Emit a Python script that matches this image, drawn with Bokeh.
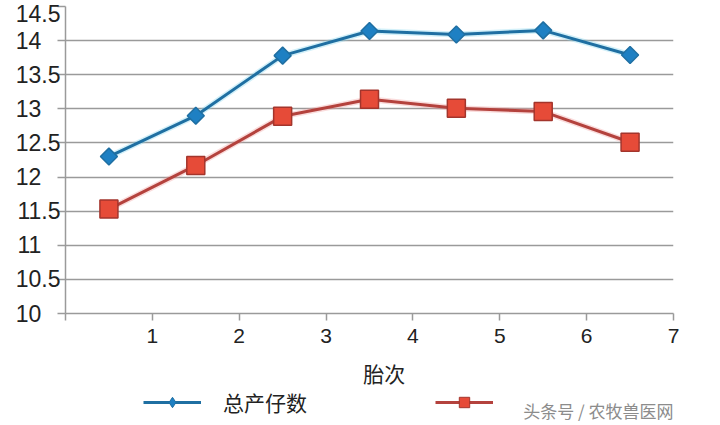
import math

from bokeh.embed import file_html
from bokeh.layouts import column
from bokeh.models import FixedTicker, Label, Legend, LegendItem
from bokeh.plotting import figure
from bokeh.resources import INLINE

# parity (胎次) and litter size readings
parity = [0.5, 1.5, 2.5, 3.5, 4.5, 5.5, 6.5]
total_born = [12.30, 12.90, 13.78, 14.14, 14.09, 14.15, 13.79]
born_alive = [11.53, 12.17, 12.89, 13.14, 13.01, 12.96, 12.51]

y_ticks = [10, 10.5, 11, 11.5, 12, 12.5, 13, 13.5, 14, 14.5]
y_tick_labels = ["10", "10.5", "11", "11.5", "12", "12.5", "13", "13.5", "14", "14.5"]
x_ticks = [0, 1, 2, 3, 4, 5, 6, 7]
x_tick_labels = ["", "1", "2", "3", "4", "5", "6", "7"]
x_title = "胎次"
series_names = ["总产仔数", " "]   # second name is hidden under the watermark box
watermark = "头条号 / 农牧兽医网"

BLUE = "#1f6fa2"
BLUE_MK = "#1e80c3"
RED = "#b4423d"
RED_MK = "#e64b38"
GRID = "#9a9a9a"
TXT = "#222222"
NUM_FONT = "Liberation Sans"
CJK_FONT = "Noto Sans CJK SC"


def pad_left(s):
    # the original labels are left aligned: pad short ones on the right
    # with punctuation / figure spaces so they line up with "14.5"
    if "." not in s:
        s = s + "\u2008\u2007"
    return s


p = figure(width=704, height=357, x_range=(0, 7), y_range=(10, 14.5),
           output_backend="svg", toolbar_location=None, tools="",
           min_border_left=65, min_border_right=31, min_border_top=6,
           min_border_bottom=44)
p.outline_line_color = None

# x axis
p.xaxis.ticker = FixedTicker(ticks=x_ticks)
p.xaxis.major_label_overrides = dict(zip(x_ticks, x_tick_labels))
p.xaxis.major_label_text_font = NUM_FONT
p.xaxis.major_label_text_font_size = "21px"
p.xaxis.major_label_text_color = TXT
p.xaxis.major_label_standoff = 8
p.xaxis.major_tick_in = 0
p.xaxis.major_tick_out = 7
p.xaxis.minor_tick_line_color = None
p.xaxis.axis_line_color = GRID
p.xaxis.major_tick_line_color = GRID
p.xaxis.axis_line_width = 1.5
p.xaxis.major_tick_line_width = 1.5

# y axis
p.yaxis.ticker = FixedTicker(ticks=y_ticks)
p.yaxis.major_label_overrides = {t: pad_left(s) for t, s in zip(y_ticks, y_tick_labels)}
p.yaxis.major_label_text_font = NUM_FONT
p.yaxis.major_label_text_font_size = "23px"
p.yaxis.major_label_text_color = TXT
p.yaxis.major_label_standoff = -3
p.yaxis.major_tick_in = 0
p.yaxis.major_tick_out = 8
p.yaxis.minor_tick_line_color = None
p.yaxis.axis_line_color = GRID
p.yaxis.major_tick_line_color = GRID
p.yaxis.axis_line_width = 1.5
p.yaxis.major_tick_line_width = 1.5

p.xgrid.grid_line_color = None
p.ygrid.ticker = FixedTicker(ticks=y_ticks)
p.ygrid.grid_line_color = GRID
p.ygrid.grid_line_width = 1.5

# series (with the soft halo of the scanned original)
p.line(parity, total_born, line_color="#7fd3ee", line_width=6, line_alpha=0.35)
p.line(parity, total_born, line_color=BLUE, line_width=3)
p.scatter(parity, total_born, marker="square", angle=math.pi / 4, size=12,
          fill_color=BLUE_MK, line_color=BLUE, line_width=1.5)
p.line(parity, born_alive, line_color="#f09a9a", line_width=6, line_alpha=0.35)
p.line(parity, born_alive, line_color=RED, line_width=3)
p.scatter(parity, born_alive, marker="square", size=18,
          fill_color=RED_MK, line_color="#a3352c", line_width=1.5)

# strip under the chart: x title, legend row and page watermark.
# its frame lines up with the chart frame; y is pixels down from the strip top
leg = figure(width=704, height=66, x_range=(0, 7), y_range=(-66, 0),
             x_axis_type=None, y_axis_type=None,
             output_backend="svg", toolbar_location=None, tools="",
             min_border_left=65, min_border_right=31,
             min_border_top=0, min_border_bottom=0)
leg.outline_line_color = None
leg.grid.grid_line_color = None

# same series again, outside the strip's visible range, just to feed the legend
k1 = leg.line(parity, total_born, line_color=BLUE, line_width=3)
s1 = leg.scatter(parity, total_born, marker="diamond",
                 fill_color=BLUE_MK, line_color=BLUE)
k2 = leg.line(parity, born_alive, line_color=RED, line_width=3)
s2 = leg.scatter(parity, born_alive, marker="square",
                 fill_color=RED_MK, line_color="#a3352c")

leg.add_layout(Label(x=3.67, y=-15, text=x_title,
                     text_align="center", text_baseline="middle",
                     text_font=CJK_FONT, text_font_size="21px",
                     text_color=TXT))

legend = Legend(items=[LegendItem(label=series_names[0], renderers=[k1, s1]),
                       LegendItem(label=series_names[1], renderers=[k2, s2])],
                orientation="horizontal", location=(78, 6),
                glyph_width=58, glyph_height=26, label_height=26,
                label_standoff=22, spacing=128, padding=0, margin=0,
                border_line_color=None, background_fill_alpha=0,
                label_text_font=CJK_FONT, label_text_font_size="21px",
                label_text_color=TXT)
leg.add_layout(legend)

leg.add_layout(Label(x=7, y=-53, text=watermark,
                     text_align="right", text_baseline="middle",
                     text_font=CJK_FONT, text_font_size="17px",
                     text_color="#8c8c8c"))

page = column(p, leg, spacing=0)
open("out.html", "w").write(file_html(page, INLINE))
